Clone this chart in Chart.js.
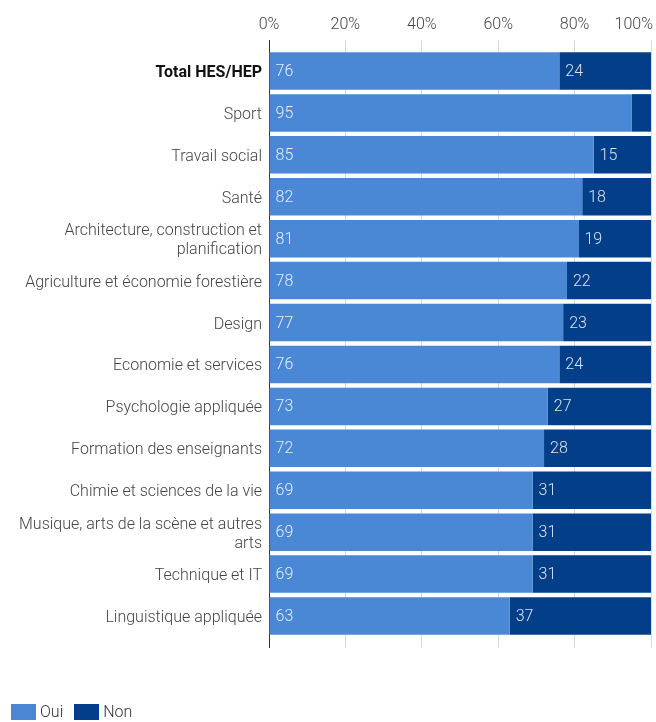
<!DOCTYPE html>
<html>
<head>
<meta charset="utf-8">
<script src="https://cdn.jsdelivr.net/npm/chart.js@4/dist/chart.umd.min.js"></script>
<style>
  body { margin: 0; background: #fff; font-family: Roboto, sans-serif; }
  #wrap { position: relative; width: 656px; height: 722px; }
  #legend { position: absolute; left: 11px; top: 704px; display: flex; font: 300 16px Roboto, sans-serif; color: #333; line-height: 16px; }
  #legend span.box { display: inline-block; width: 25px; height: 16px; margin-right: 4px; }
  #legend .item { display: flex; align-items: center; margin-right: 11px; }
</style>
</head>
<body>
<div id="wrap">
  <canvas id="chart"></canvas>
  <div id="legend"></div>
</div>
<script>
const categories = [
  'Total HES/HEP', 'Sport', 'Travail social', 'Santé',
  ['Architecture, construction et', 'planification'],
  'Agriculture et économie forestière', 'Design', 'Economie et services',
  'Psychologie appliquée', 'Formation des enseignants', 'Chimie et sciences de la vie',
  ['Musique, arts de la scène et autres', 'arts'],
  'Technique et IT', 'Linguistique appliquée'
];
const oui = [76, 95, 85, 82, 81, 78, 77, 76, 73, 72, 69, 69, 69, 63];
const non = [24, 5, 15, 18, 19, 22, 23, 24, 27, 28, 31, 31, 31, 37];
const seriesNames = ['Oui', 'Non'];
const seriesColors = ['#4a88d6', '#023f88'];
const xTicks = [0, 20, 40, 60, 80, 100];

const gridColor = (c) => (c.tick && c.tick.value === 0) ? '#333' : '#d9d9d9';

// value labels inside the bars, left aligned
const barLabels = {
  id: 'barLabels',
  afterDatasetsDraw(chart) {
    const ctx = chart.ctx;
    ctx.save();
    ctx.font = '300 16px Roboto, sans-serif';
    ctx.textBaseline = 'middle';
    ctx.textAlign = 'left';
    ctx.fillStyle = 'rgba(255,255,255,0.85)';
    chart.data.datasets.forEach((ds, di) => {
      chart.getDatasetMeta(di).data.forEach((bar, i) => {
        const v = ds.data[i];
        if (v < 10) return;
        const start = Math.min(bar.base, bar.x);
        ctx.fillText(String(v), start + 6, bar.y + 1);
      });
    });
    ctx.restore();
  }
};

// percent labels above the top axis (last one kept inside the canvas)
const topTicks = {
  id: 'topTicks',
  afterDraw(chart) {
    const sc = chart.scales.x;
    const ctx = chart.ctx;
    ctx.save();
    ctx.font = '300 16px Roboto, sans-serif';
    ctx.fillStyle = '#444';
    ctx.textBaseline = 'middle';
    sc.ticks.forEach((t, i) => {
      const px = sc.getPixelForValue(t.value);
      const last = i === sc.ticks.length - 1;
      ctx.textAlign = last ? 'right' : 'center';
      ctx.fillText(t.value + '%', last ? px + 2 : px, 25);
    });
    ctx.restore();
  }
};

new Chart(document.getElementById('chart'), {
  type: 'bar',
  data: {
    labels: categories,
    datasets: [
      { label: seriesNames[0], data: oui, backgroundColor: seriesColors[0], barPercentage: 0.895, categoryPercentage: 1 },
      { label: seriesNames[1], data: non, backgroundColor: seriesColors[1], barPercentage: 0.895, categoryPercentage: 1 }
    ]
  },
  options: {
    indexAxis: 'y',
    responsive: true,
    maintainAspectRatio: false,
    animation: false,
    layout: { padding: { left: 0, right: 5, top: 0, bottom: 74 } },
    plugins: { legend: { display: false }, tooltip: { enabled: false } },
    scales: {
      x: {
        position: 'top', stacked: true, min: 0, max: 100,
        afterBuildTicks: (s) => { s.ticks = xTicks.map(v => ({ value: v })); },
        ticks: { display: false },
        grid: { color: gridColor, tickLength: 10 },
        border: { display: false },
        afterFit: (s) => { s.height = 50; }
      },
      x2: {
        type: 'linear', position: 'bottom', min: 0, max: 100,
        afterBuildTicks: (s) => { s.ticks = xTicks.map(v => ({ value: v })); },
        ticks: { display: false },
        grid: { color: gridColor, tickLength: 11, drawOnChartArea: false },
        border: { display: false }
      },
      y: {
        stacked: true,
        grid: { display: false, drawTicks: false, tickLength: 0 },
        border: { color: '#333', width: 1 },
        ticks: {
          padding: 7,
          labelOffset: 2,
          color: (c) => c.index === 0 ? '#111' : '#444',
          font: (c) => c.index === 0
            ? { family: 'Roboto, sans-serif', size: 16, weight: 'bold', lineHeight: 1.2 }
            : { family: 'Roboto, sans-serif', size: 16, weight: '300', lineHeight: 1.2 }
        },
        afterFit: (s) => { s.width = 269; }
      }
    }
  },
  plugins: [barLabels, topTicks]
});

document.getElementById('legend').innerHTML = seriesNames.map((n, i) =>
  `<div class="item"><span class="box" style="background:${seriesColors[i]}"></span>${n}</div>`).join('');
</script>
</body>
</html>
